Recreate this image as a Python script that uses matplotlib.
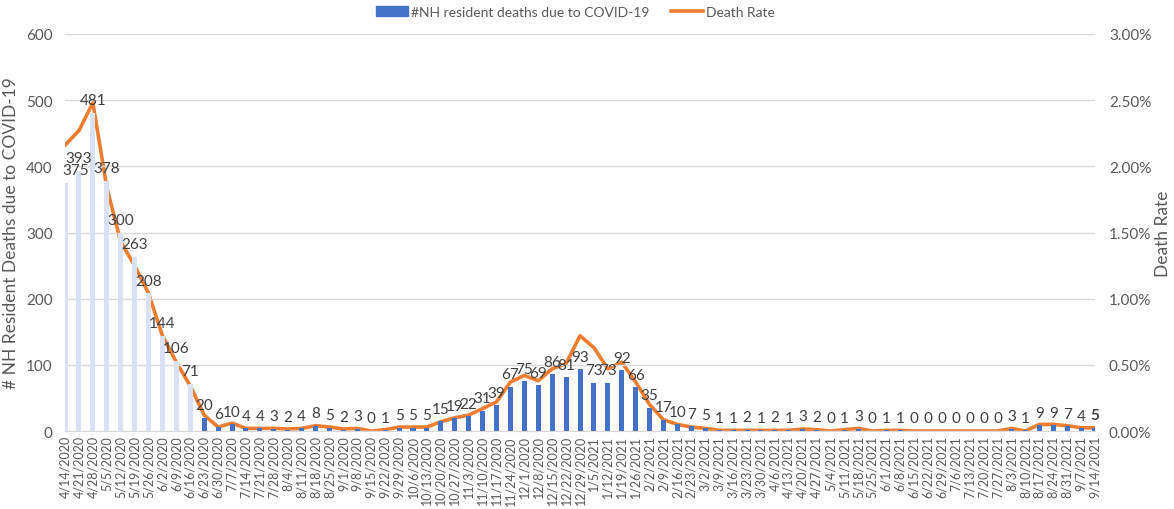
import matplotlib.pyplot as plt
import numpy as np
from matplotlib.lines import Line2D
from matplotlib.patches import Patch

plt.rcParams['font.family'] = ['Lato', 'DejaVu Sans']

weeks = [
    '4/14/2020', '4/21/2020', '4/28/2020', '5/5/2020', '5/12/2020',
    '5/19/2020', '5/26/2020', '6/2/2020', '6/9/2020', '6/16/2020',
    '6/23/2020', '6/30/2020', '7/7/2020', '7/14/2020', '7/21/2020',
    '7/28/2020', '8/4/2020', '8/11/2020', '8/18/2020', '8/25/2020',
    '9/1/2020', '9/8/2020', '9/15/2020', '9/22/2020', '9/29/2020',
    '10/6/2020', '10/13/2020', '10/20/2020', '10/27/2020', '11/3/2020',
    '11/10/2020', '11/17/2020', '11/24/2020', '12/1/2020', '12/8/2020',
    '12/15/2020', '12/22/2020', '12/29/2020', '1/5/2021', '1/12/2021',
    '1/19/2021', '1/26/2021', '2/2/2021', '2/9/2021', '2/16/2021',
    '2/23/2021', '3/2/2021', '3/9/2021', '3/16/2021', '3/23/2021',
    '3/30/2021', '4/6/2021', '4/13/2021', '4/20/2021', '4/27/2021',
    '5/4/2021', '5/11/2021', '5/18/2021', '5/25/2021', '6/1/2021',
    '6/8/2021', '6/15/2021', '6/22/2021', '6/29/2021', '7/6/2021',
    '7/13/2021', '7/20/2021', '7/27/2021', '8/3/2021', '8/10/2021',
    '8/17/2021', '8/24/2021', '8/31/2021', '9/7/2021', '9/14/2021',
]

deaths = [
    375, 393, 481, 378, 300, 263, 208, 144, 106, 71,
    20, 6, 10, 4, 4, 3, 2, 4, 8, 5,
    2, 3, 0, 1, 5, 5, 5, 15, 19, 22,
    31, 39, 67, 75, 69, 86, 81, 93, 73, 73,
    92, 66, 35, 17, 10, 7, 5, 1, 1, 2,
    1, 2, 1, 3, 2, 0, 1, 3, 0, 1,
    1, 0, 0, 0, 0, 0, 0, 0, 3, 1,
    9, 9, 7, 4, 5,
]

# death rate in percent
death_rate = [
    2.16, 2.27, 2.48, 1.84, 1.43, 1.25, 1.04, 0.72, 0.52, 0.34,
    0.12, 0.03, 0.06, 0.02, 0.02, 0.02, 0.015, 0.02, 0.04, 0.03,
    0.015, 0.02, 0.0, 0.01, 0.03, 0.03, 0.03, 0.07, 0.10, 0.12,
    0.17, 0.22, 0.37, 0.42, 0.38, 0.47, 0.51, 0.72, 0.63, 0.47,
    0.52, 0.37, 0.20, 0.085, 0.05, 0.03, 0.02, 0.005, 0.005, 0.005,
    0.005, 0.005, 0.005, 0.015, 0.01, 0.0, 0.01, 0.02, 0.0, 0.005,
    0.005, 0.0, 0.0, 0.0, 0.0, 0.0, 0.0, 0.0, 0.02, 0.0,
    0.05, 0.05, 0.04, 0.025, 0.025,
]

n_light = 10
light = '#D9E1F2'
blue = '#4472C4'
orange = '#ED7D31'
grid_c = '#D9D9D9'
txt = '#595959'

fig = plt.figure(figsize=(11.74, 5.10), dpi=100)
ax = fig.add_axes([0.0554, 0.1529, 0.8773, 0.7785])
ax2 = ax.twinx()

x = np.arange(len(weeks))
colors = [light if i < n_light else blue for i in range(len(x))]
ax.bar(x, deaths, width=0.36, color=colors, zorder=2)

for i, v in enumerate(deaths):
    ha = 'center'
    dx = 0
    if i == 0:
        ha, dx = 'left', -2
    ax.annotate(str(v), (x[i], v), xytext=(dx, 4), textcoords='offset points',
                ha=ha, va='bottom', fontsize=11, color='#404040',
                fontweight='bold' if i == len(x) - 1 else 'normal',
                annotation_clip=False, zorder=5)

ax2.plot(x, np.array(death_rate) / 100, color=orange, lw=2.6,
         solid_joinstyle='round', zorder=3)

ax.set_xlim(0, len(x) - 1)
ax.set_ylim(0, 600)
ax2.set_ylim(0, 0.03)
ax.set_yticks(range(0, 601, 100))
ax2.set_yticks(np.arange(0, 0.0301, 0.005))
ax2.set_yticklabels([f'{v * 100:.2f}%' for v in np.arange(0, 0.0301, 0.005)])
ax.set_xticks(x)
ax.set_xticklabels(weeks, rotation=90, fontsize=9, color=txt)

ax.grid(axis='y', color=grid_c, lw=1, zorder=0)
ax.set_axisbelow(True)
for a in (ax, ax2):
    for s in a.spines.values():
        s.set_visible(False)
ax.spines['bottom'].set_visible(True)
ax.spines['bottom'].set_color(grid_c)
ax.tick_params(axis='both', length=0)
ax2.tick_params(axis='both', length=0)
ax.tick_params(axis='y', labelsize=11, labelcolor=txt, pad=9)
ax2.tick_params(axis='y', labelsize=11, labelcolor=txt, pad=10)
ax.tick_params(axis='x', pad=3)

ax.set_ylabel('# NH Resident Deaths due to COVID-19', fontsize=12.5, color=txt)
ax.yaxis.set_label_coords(-0.045, 0.5)
ax2.set_ylabel('Death Rate', fontsize=12.5, color=txt)
ax2.yaxis.set_label_coords(1.058, 0.5)

ax.set_zorder(ax2.get_zorder() + 1)
ax.patch.set_visible(False)

handles = [Patch(color=blue), Line2D([], [], color=orange, lw=2.6)]
fig.legend(handles, ['#NH resident deaths due to COVID-19', 'Death Rate'],
           loc='center', bbox_to_anchor=(0.49, 0.975), ncol=2, frameon=False,
           fontsize=10, labelcolor=txt, handlelength=2.3, columnspacing=1.6,
           handletextpad=0.2)

plt.savefig('out.png', dpi=100)
